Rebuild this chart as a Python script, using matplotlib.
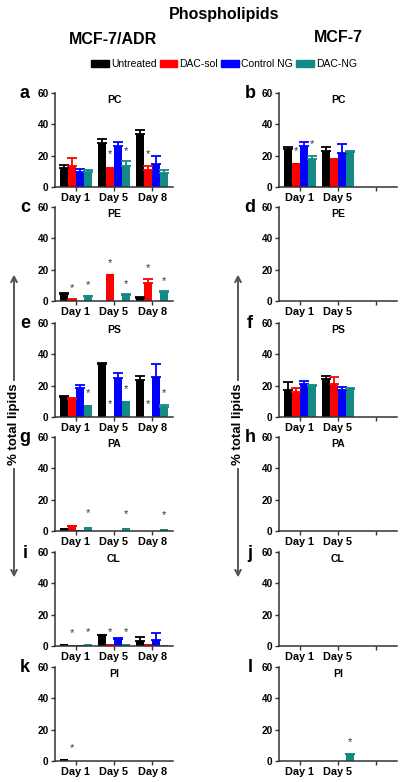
import numpy as np
import matplotlib
matplotlib.use("Agg")
import matplotlib.pyplot as plt
from matplotlib.patches import Patch

plt.rcParams['font.family'] = ['Liberation Sans', 'DejaVu Sans']

W, H = 406, 782

treatments = ['Untreated', 'DAC-sol', 'Control NG', 'DAC-NG']
colors = ['#000000', '#ff0000', '#0000ff', '#138a85']
days_adr = ['Day 1', 'Day 5', 'Day 8']
days_mcf = ['Day 1', 'Day 5', '']

# rows = treatments, columns = days
pc_adr = [[12.4, 28.3, 33.8], [13.5, 13.0, 10.7], [9.6, 26.0, 15.0], [9.6, 13.5, 9.0]]
pc_adr_err = [[1.6, 2.5, 2.4], [5.1, 0, 3.0], [2.0, 3.0, 5.0], [1.4, 3.0, 1.7]]
pc_adr_star = [(1, 1, 20.8), (1, 3, 23.0), (2, 1, 20.8)]

pc_mcf = [[24.2, 22.9, 0], [15.6, 18.2, 0], [26.1, 22.0, 0], [17.8, 22.5, 0]]
pc_mcf_err = [[1.5, 2.8, 0], [0, 0, 0], [2.8, 5.2, 0], [2.1, 0.5, 0]]
pc_mcf_star = [(0, 1, 22.9), (0, 3, 27.2)]

pe_adr = [[4.5, 0, 1.9], [0.9, 17.5, 11.4], [0, 0, 0], [3.2, 4.1, 5.6]]
pe_adr_err = [[0.7, 0, 0.4], [0.4, 0, 2.6], [0, 0, 0], [0.3, 0.4, 0.5]]
pe_adr_star = [(0, 1, 8.2), (0, 3, 10.4), (1, 1, 24.4), (1, 3, 11.0), (2, 1, 20.7), (2, 3, 12.5)]

ps_adr = [[12.6, 33.8, 23.6], [11.7, 0, 0], [18.3, 25.1, 25.7], [7.9, 10.4, 6.2]]
ps_adr_err = [[0.6, 0.9, 2.6], [0.6, 0, 0], [2.3, 2.8, 8.3], [0, 0, 1.2]]
ps_adr_star = [(0, 3, 15.5), (1, 1, 8.5), (1, 3, 18.1), (2, 1, 8.5), (2, 3, 15.5)]

ps_mcf = [[17.0, 24.3, 0], [16.2, 20.9, 0], [20.9, 17.4, 0], [19.6, 17.9, 0]]
ps_mcf_err = [[5.3, 1.9, 0], [2.3, 4.6, 0], [2.1, 1.7, 0], [1.0, 0.3, 0]]

pa_adr = [[1.7, 0, 0], [3.0, 0, 0], [0.6, 0, 0], [2.4, 2.2, 1.5]]
pa_adr_err = [[0, 0, 0], [0.5, 0, 0], [0, 0, 0], [0, 0, 0]]
pa_adr_star = [(0, 3, 11.2), (1, 3, 10.8), (2, 3, 10.1)]

cl_adr = [[1.5, 7.1, 3.4], [0.4, 1.1, 1.3], [0.4, 4.5, 3.7], [1.5, 1.1, 0.6]]
cl_adr_err = [[0, 0.2, 2.6], [0, 0, 0], [0, 0.3, 4.5], [0, 0, 0]]
cl_adr_star = [(0, 1, 8.2), (0, 3, 8.6), (1, 1, 9.0), (1, 3, 8.6)]

pi_adr = [[1.1, 0, 0], [0.2, 0, 0], [0, 0, 0], [0, 0, 0]]
pi_adr_star = [(0, 1, 8.2)]

pi_mcf = [[0, 0, 0], [0, 0, 0], [0, 0, 0], [0, 4.3, 0]]
pi_mcf_err = [[0, 0, 0], [0, 0, 0], [0, 0, 0], [0, 0.4, 0]]
pi_mcf_star = [(1, 3, 12.0)]

empty = [[0, 0, 0]] * 4

BAR_W = 0.21


def px_rect(x0, top, x1, bottom):
    return [x0 / W, 1 - bottom / H, (x1 - x0) / W, (bottom - top) / H]


def draw_panel(ax, title, days, means, errs=None, stars=()):
    x = np.arange(len(days))
    for i, (vals, col) in enumerate(zip(means, colors)):
        xs = x + (i - 1.5) * BAR_W
        vals = np.array(vals, dtype=float)
        keep = vals > 0
        ax.bar(xs[keep], vals[keep], BAR_W, color=col, linewidth=0)
        if errs is not None:
            e = np.array(errs[i], dtype=float)
            ek = e > 0
            if ek.any():
                ax.errorbar(xs[ek], vals[ek], yerr=[np.zeros(ek.sum()), e[ek]],
                            fmt='none', ecolor=col, elinewidth=1.3,
                            capsize=3.5, capthick=1.3)
    for d, t, y in stars:
        ax.text(x[d] + (t - 1.5) * BAR_W, y, '*', ha='center', va='center',
                fontsize=8, color='#333333')
    ax.set_xlim(-0.55, 2.55)
    ax.set_ylim(0, 60)
    ax.set_yticks([0, 20, 40, 60])
    ax.set_xticks(x)
    ax.set_xticklabels(days, fontsize=7.8, fontweight='bold')
    for lab in ax.get_yticklabels():
        lab.set_fontsize(7.2)
        lab.set_fontweight('bold')
    ax.tick_params(axis='both', length=3, width=1, pad=1.5, color='#333333')
    for s in ['top', 'right']:
        ax.spines[s].set_visible(False)
    for s in ['left', 'bottom']:
        ax.spines[s].set_color('#333333')
        ax.spines[s].set_linewidth(1.1)
    ax.text(0.5, 0.93, title, transform=ax.transAxes, ha='center', va='center',
            fontsize=7.5, fontweight='bold')


fig = plt.figure(figsize=(W / 100, H / 100), dpi=100)

row_tops = [93, 207, 323, 437, 552, 667]
left_panels = [
    ('a', 'PC', pc_adr, pc_adr_err, pc_adr_star),
    ('c', 'PE', pe_adr, pe_adr_err, pe_adr_star),
    ('e', 'PS', ps_adr, ps_adr_err, ps_adr_star),
    ('g', 'PA', pa_adr, pa_adr_err, pa_adr_star),
    ('i', 'CL', cl_adr, cl_adr_err, cl_adr_star),
    ('k', 'PI', pi_adr, None, pi_adr_star),
]
right_panels = [
    ('b', 'PC', pc_mcf, pc_mcf_err, pc_mcf_star),
    ('d', 'PE', empty, None, ()),
    ('f', 'PS', ps_mcf, ps_mcf_err, ()),
    ('h', 'PA', empty, None, ()),
    ('j', 'CL', empty, None, ()),
    ('l', 'PI', pi_mcf, pi_mcf_err, pi_mcf_star),
]

for top, (letter, title, m, e, st) in zip(row_tops, left_panels):
    ax = fig.add_axes(px_rect(55, top, 173, top + 94))
    draw_panel(ax, title, days_adr, m, e, st)
    fig.text(25 / W, 1 - (top + 1) / H, letter, ha='center', va='center',
             fontsize=13, fontweight='bold')

for top, (letter, title, m, e, st) in zip(row_tops, right_panels):
    ax = fig.add_axes(px_rect(279, top, 397, top + 94))
    draw_panel(ax, title, days_mcf, m, e, st)
    fig.text(250 / W, 1 - (top + 1) / H, letter, ha='center', va='center',
             fontsize=13, fontweight='bold')

fig.text(224 / W, 1 - 15 / H, 'Phospholipids', ha='center', va='center',
         fontsize=11.5, fontweight='bold')
fig.text(113 / W, 1 - 40 / H, 'MCF-7/ADR', ha='center', va='center',
         fontsize=11.5, fontweight='bold')
fig.text(338 / W, 1 - 38 / H, 'MCF-7', ha='center', va='center',
         fontsize=11.5, fontweight='bold')

handles = [Patch(color=c, label=t) for c, t in zip(colors, treatments)]
fig.legend(handles=handles, loc='center', bbox_to_anchor=(224 / W, 1 - 64 / H),
           ncol=4, fontsize=7.5, frameon=False, handlelength=1.7,
           handleheight=0.6, handletextpad=0.2, columnspacing=0.3,
           borderpad=0)

# y label with arrows
for xp in [14, 238]:
    fig.text(xp / W, 1 - 424 / H, '% total lipids', rotation=90, ha='center',
             va='center', fontsize=9.5, fontweight='bold')
    fig.add_artist(plt.annotate('', xy=(xp / W, 1 - 272 / H), xytext=(xp / W, 1 - 383 / H),
                                xycoords='figure fraction', textcoords='figure fraction',
                                arrowprops=dict(arrowstyle='->', color='#555555', lw=1.2)))
    fig.add_artist(plt.annotate('', xy=(xp / W, 1 - 580 / H), xytext=(xp / W, 1 - 466 / H),
                                xycoords='figure fraction', textcoords='figure fraction',
                                arrowprops=dict(arrowstyle='->', color='#555555', lw=1.2)))

fig.savefig('out.png', dpi=100)
